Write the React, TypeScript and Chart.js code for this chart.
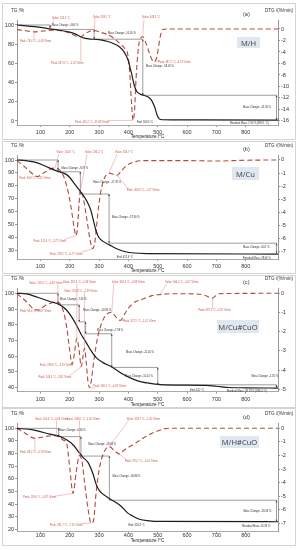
import React, { useEffect, useRef } from 'react';
import { Chart, registerables } from 'chart.js';
Chart.register(...registerables);

const xTicks = [100, 200, 300, 400, 500, 600, 700, 800];

// ---- Panel (a) M/H ----
const tgTempA = [20, 60, 100, 131, 160, 200, 220, 235, 250, 270, 290, 310, 330, 350, 370, 385, 398, 407, 414, 420, 428, 440, 455, 470, 480, 490, 498, 505, 515, 600, 910];
const tgA = [100, 98.8, 97.5, 96, 94.8, 92.5, 90.5, 88, 86.3, 85.3, 85, 84.2, 82.8, 80.5, 77, 72, 64, 54, 45, 37, 31, 28, 26.5, 24.5, 21, 14, 6, 2.2, 1.3, 1.1, 1.0];
const dtgTempA = [20, 50, 80, 110, 140, 170, 200, 225, 237, 250, 270, 283, 300, 330, 350, 370, 386, 398, 405, 410, 416, 421, 426, 435, 443, 449, 458, 470, 480, 488, 496, 503, 510, 517, 530, 910];
const dtgA = [-0.1, -0.3, -0.5, -0.35, -0.2, -0.3, -0.7, -1.3, -1.35, -0.9, -0.35, -0.26, -0.5, -1.0, -1.6, -2.5, -3.3, -4.5, -8, -12.5, -15.9, -14, -8.6, -2.8, -1.5, -1.35, -2.2, -4.0, -5.3, -5.7, -5.0, -3.0, -1.0, -0.1, 0, 0];
const leftTicksA = [0, 20, 40, 60, 80, 100];
const rightTicksA = [0, -2, -4, -6, -8, -10, -12, -14, -16];
// annotations (data coordinates): [text, labelT, labelTG, anchorT, anchorDTG]
const peakNotesA: [string, number, number, number, number][] = [
  ['Value: 132.5 °C', 139, 107.3, 132, -0.2],
  ['Value: 283.7 °C', 279, 108.3, 283.7, -0.26],
  ['Value: 448.5 °C', 446, 107.6, 448.5, -1.35],
  ['Peak: 78.4 °C, -0.48 %/min', 30, 83.3, 78.4, -0.5],
  ['Peak: 237.6 °C, -1.32 %/min', 136, 60.4, 237.6, -1.35],
  ['Peak: 487.2 °C, -6.13 %/min', 501, 61.5, 488, -5.7],
  ['Peak: 416.2 °C, -15.88 %/min', 218, -1, 416, -15.9],
];
const massNotesA: [string, number, number][] = [
  ['Mass Change: -4.60 %', 139, 99.3],
  ['Mass Change: -10.16 %', 330, 91.7],
  ['Mass Change: -58.45 %', 460, 57.3],
  ['Mass Change: -22.36 %', 791, 14.6],
  ['Residual Mass: 2.90 % (899.1 °C)', 746, -2],
  ['End: 503.5 °C', 429, -1],
];
const stepTempsA = [25, 133, 283, 449, 905];
const stepLevelsA = [100, 95.4, 85.2, 26.8, 1.0];

// ---- Panel (b) M/Cu ----
const tgTempB = [20, 50, 77, 110, 134, 162, 185, 200, 215, 230, 245, 260, 272, 282, 290, 300, 315, 335, 360, 390, 420, 460, 910];
const tgB = [100, 99.5, 98.5, 96, 93.5, 91, 89.3, 86.5, 82, 77.5, 73, 67.5, 61, 52, 45, 40, 37, 34.5, 31.5, 29.2, 28.2, 27.8, 27.4];
const dtgTempB = [20, 40, 65, 89, 110, 130, 145, 162, 180, 195, 207, 215, 221, 226, 232, 237, 245, 258, 270, 278, 286, 295, 305, 318, 334, 348, 361, 375, 395, 420, 450, 600, 700, 800, 910];
const dtgB = [-0.05, -0.4, -0.9, -1.27, -1.0, -0.75, -0.62, -0.7, -1.3, -2.5, -4.0, -5.2, -5.77, -5.2, -3.2, -2.3, -2.8, -4.5, -6.2, -6.77, -6.2, -4.2, -2.5, -1.4, -1.0, -1.1, -1.17, -0.85, -0.4, -0.15, -0.05, -0.05, -0.08, -0.02, 0];
const leftTicksB = [30, 40, 50, 60, 70, 80, 90, 100];
const rightTicksB = [0, -1, -2, -3, -4, -5, -6, -7];
const peakNotesB: [string, number, number, number, number][] = [
  ['Value: 154.9 °C', 155, 105.6, 150, -0.62],
  ['Value: 236.2 °C', 252, 105.6, 237, -2.3],
  ['Value: 334.7 °C', 354, 105.6, 334, -1.0],
  ['Peak: 90.9 °C, -1.25 %/min', 28, 85.9, 89, -1.27],
  ['Peak: 221.6 °C, -5.77 %/min', 76, 37.5, 221, -5.77],
  ['Peak: 278.2 °C, -6.77 %/min', 132, 27.5, 278, -6.77],
  ['Peak: 360.9 °C, -1.17 %/min', 394, 76.3, 361, -1.17],
];
const massNotesB: [string, number, number][] = [
  ['Mass Change: -9.07 %', 172, 93.6],
  ['Mass Change: -17.18 %', 280, 82.5],
  ['Mass Change: -37.90 %', 343, 55.5],
  ['Mass Change: -8.01 %', 791, 33],
  ['Residual Mass: 28.06 %', 790, 24],
  ['End: 412.9 °C', 360, 24.6],
];
const stepTempsB = [25, 160, 236, 334, 905];
const stepLevelsB = [100, 90.9, 73.7, 35.8, 27.8];

// ---- Panel (c) M/Cu#CuO ----
const tgTempC = [20, 52, 90, 132, 166, 188, 205, 222, 239, 256, 273, 290, 312, 346, 380, 414, 448, 493, 527, 663, 700, 742, 800, 910];
const tgC = [100, 99.6, 97.5, 94.8, 92.7, 89.5, 85.3, 80, 73.8, 68.6, 63.3, 59, 56, 52.8, 48.6, 45.5, 43.4, 42.2, 41.7, 41.3, 40.8, 40, 39.8, 39.6];
const dtgTempC = [20, 50, 81, 93, 115, 143, 159, 175, 190, 200, 208, 215, 224, 232, 239, 245, 250, 256, 262, 267, 273, 282, 295, 310, 325, 343, 358, 373, 390, 410, 425, 450, 480, 506, 550, 620, 660, 675, 687, 700, 708, 910];
const dtgC = [-0.02, -0.4, -0.85, -0.87, -0.65, -0.48, -0.46, -0.8, -1.8, -3.0, -3.7, -3.2, -2.36, -3.0, -3.82, -3.3, -2.86, -3.6, -4.6, -4.92, -4.6, -3.5, -2.3, -1.5, -1.1, -0.99, -1.25, -1.41, -1.0, -0.6, -0.43, -0.3, -0.12, -0.07, -0.02, -0.03, -0.1, -0.2, -0.25, -0.1, -0.02, 0];
const leftTicksC = [40, 50, 60, 70, 80, 90, 100];
const rightTicksC = [0, -1, -2, -3, -4, -5];
const peakNotesC: [string, number, number, number, number][] = [
  ['Value: 159.0 °C, -0.46 %/min', 62, 106.4, 159, -0.46],
  ['Value: 232.9 °C, -2.36 %/min', 176, 107, 224, -2.36],
  ['Value: 253.8 °C, -2.59 %/min', 181, 101.5, 250, -2.86],
  ['Value: 342.6 °C, -0.99 %/min', 343, 107, 343, -0.99],
  ['Value: 506.0 °C, -0.07 %/min', 525, 107, 506, -0.07],
  ['Peak: 93.4 °C, -0.87 %/min', 30, 88.3, 93, -0.87],
  ['Peak: 218.6 °C, -3.70 %/min', 98, 54.3, 208, -3.7],
  ['Peak: 244.3 °C, -3.82 %/min', 93, 46.5, 239, -3.82],
  ['Peak: 266.5 °C, -4.92 %/min', 280, 40.5, 267, -4.92],
  ['Peak: 372.5 °C, -1.41 %/min', 382, 81.9, 373, -1.41],
  ['Peak: 687.5 °C, -0.25 %/min', 638, 89.4, 687, -0.25],
];
const massNotesC: [string, number, number][] = [
  ['Mass Change: -7.35 %', 167, 96.2],
  ['Mass Change: -10.85 %', 246, 89.4],
  ['Mass Change: -7.58 %', 292, 76.6],
  ['Mass Change: -21.40 %', 392, 62.2],
  ['Mass Change: -10.10 %', 388, 47.3],
  ['Mass Change: -1.35 %', 820, 46.9],
  ['End: 422 °C', 610, 38],
  ['Residual Mass: 39.78 % (899.4 °C)', 735, 37.3],
];
const stepTempsC = [25, 160, 232, 254, 343, 500, 905];
const stepLevelsC = [100, 92.65, 81.8, 74.2, 52.8, 41.7, 39.8];

// ---- Panel (d) M/H#CuO ----
const tgTempD = [20, 75, 132, 166, 188, 211, 228, 245, 262, 279, 290, 301, 324, 352, 375, 397, 414, 437, 471, 505, 910];
const tgD = [100, 98.7, 95.4, 93.6, 91, 87, 82, 77, 73, 64, 55.6, 50.6, 46, 42, 38.3, 33, 30.6, 28, 26.7, 26.2, 26];
const dtgTempD = [20, 50, 81, 100, 125, 143, 162, 180, 188, 199, 211, 222, 233, 242, 250, 262, 273, 281, 290, 301, 315, 335, 350, 369, 385, 414, 459, 493, 537, 910];
const dtgD = [0, -0.4, -0.74, -0.68, -0.58, -0.54, -0.6, -0.9, -1.0, -2.7, -4.8, -3.2, -2.0, -2.5, -3.9, -5.9, -7.0, -6.8, -4.7, -2.95, -1.85, -1.35, -1.6, -1.9, -1.6, -1.23, -0.61, -0.25, 0, 0];
const leftTicksD = [20, 30, 40, 50, 60, 70, 80, 90, 100];
const rightTicksD = [0, -1, -2, -3, -4, -5, -6, -7];
const peakNotesD: [string, number, number, number, number][] = [
  ['Value: 161.6 °C, -0.48 %/min', 81, 107.4, 155, -0.55],
  ['Value: 238.6 °C, -2.26 %/min', 189, 107.4, 233, -2.0],
  ['Value: 333.7 °C, -1.45 %/min', 394, 107.4, 335, -1.35],
  ['Peak: 88.4 °C, -0.70 %/min', 30, 81, 81, -0.74],
  ['Peak: 218.6 °C, -4.87 %/min', 41, 45, 211, -4.8],
  ['Peak: 281.7 °C, -7.16 %/min', 132, 23.4, 273, -7.0],
  ['Peak: 375.1 °C, -2.04 %/min', 388, 73.6, 369, -1.9],
];
const massNotesD: [string, number, number][] = [
  ['Mass Change: -6.56 %', 164, 98.1],
  ['Mass Change: -18.63 %', 263, 87.3],
  ['Mass Change: -34.86 %', 346, 61.7],
  ['Mass Change: -16.33 %', 792, 34.5],
  ['End: 426.3 °C', 400, 22.9],
  ['Residual Mass: 24.33 %', 788, 22.1],
];
const stepTempsD = [25, 162, 238, 335, 905];
const stepLevelsD = [100, 93.4, 78, 43, 26];

const sampleNames = ['M/H', 'M/Cu', 'M/Cu#CuO', 'M/H#CuO'];
const panelLetters = ['(a)', '(b)', '(c)', '(d)'];

const FONT = "'Liberation Sans', Arial, sans-serif";

type PanelCfg = {
  tgT: number[]; tg: number[]; dtgT: number[]; dtg: number[];
  lTicks: number[]; rTicks: number[];
  peaks: [string, number, number, number, number][];
  mass: [string, number, number][];
  stepT: number[]; stepV: number[];
  lMin: number; lMax: number; rMin: number; rMax: number;
  top: number; bottom: number; chartTop: number; chartBottom: number; tickY: number; titleY: number;
  name: string; letter: string;
  box: { x: number; y: number; w: number; h: number };
};

const panels: PanelCfg[] = [
  { tgT: tgTempA, tg: tgA, dtgT: dtgTempA, dtg: dtgA, lTicks: leftTicksA, rTicks: rightTicksA,
    peaks: peakNotesA, mass: massNotesA, stepT: stepTempsA, stepV: stepLevelsA,
    lMin: -4.17, lMax: 105.2, rMin: -16.7, rMax: 1.565,
    top: 3, bottom: 141, chartTop: 20, chartBottom: 125, tickY: 132, titleY: 137,
    name: sampleNames[0], letter: panelLetters[0], box: { x: 237, y: 37, w: 23, h: 11 } },
  { tgT: tgTempB, tg: tgB, dtgT: dtgTempB, dtg: dtgB, lTicks: leftTicksB, rTicks: rightTicksB,
    peaks: peakNotesB, mass: massNotesB, stepT: stepTempsB, stepV: stepLevelsB,
    lMin: 23.59, lMax: 103.86, rMin: -7.557, rMax: 0.38,
    top: 141, bottom: 275, chartTop: 155, chartBottom: 259, tickY: 266, titleY: 271,
    name: sampleNames[1], letter: panelLetters[1], box: { x: 232, y: 167, w: 27, h: 13 } },
  { tgT: tgTempC, tg: tgC, dtgT: dtgTempC, dtg: dtgC, lTicks: leftTicksC, rTicks: rightTicksC,
    peaks: peakNotesC, mass: massNotesC, stepT: stepTempsC, stepV: stepLevelsC,
    lMin: 37.32, lMax: 103.38, rMin: -5.125, rMax: 0.276,
    top: 275, bottom: 409, chartTop: 288, chartBottom: 391.7, tickY: 399.3, titleY: 404.3,
    name: sampleNames[2], letter: panelLetters[2], box: { x: 217, y: 320, w: 42, h: 13 } },
  { tgT: tgTempD, tg: tgD, dtgT: dtgTempD, dtg: dtgD, lTicks: leftTicksD, rTicks: rightTicksD,
    peaks: peakNotesD, mass: massNotesD, stepT: stepTempsD, stepV: stepLevelsD,
    lMin: 18.1, lMax: 104.2, rMin: -7.62, rMax: 0.39,
    top: 408, bottom: 546, chartTop: 423, chartBottom: 531.7, tickY: 535.5, titleY: 540.5,
    name: sampleNames[3], letter: panelLetters[3], box: { x: 220, y: 436, w: 39, h: 12 } },
];

const frames = [
  { top: 3, h: 136 },
  { top: 141, h: 132 },
  { top: 275, h: 132 },
  { top: 408, h: 137 },
];

function pts(xs: number[], ys: number[]) {
  return xs.map((x, i) => ({ x, y: ys[i] }));
}

const annPlugin = {
  id: 'ann',
  afterDatasetsDraw(chart: any, _args: any, opts: any) {
    const { ctx } = chart;
    const xs = chart.scales.x, yl = chart.scales.y, yr = chart.scales.y1;
    const X = (t: number) => xs.getPixelForValue(t);
    const YL = (v: number) => yl.getPixelForValue(v);
    const YR = (v: number) => yr.getPixelForValue(v);
    const stepT: number[] = opts.stepT, stepV: number[] = opts.stepV;
    ctx.save();
    // mass-change step markers (horizontal levels + vertical arrows)
    ctx.strokeStyle = '#3c3c3c';
    ctx.lineWidth = 0.5;
    for (let i = 0; i < stepT.length - 1; i++) {
      const x1 = X(stepT[i]), x2 = X(stepT[i + 1]);
      const y = YL(stepV[i]);
      ctx.beginPath(); ctx.moveTo(x1, y); ctx.lineTo(x2, y); ctx.stroke();
      const ya = YL(stepV[i]), yb = YL(stepV[i + 1]);
      ctx.beginPath(); ctx.moveTo(x2, ya); ctx.lineTo(x2, yb); ctx.stroke();
      ctx.fillStyle = '#3c3c3c';
      [[ya, 1], [yb, -1]].forEach(([yy, d]) => {
        ctx.beginPath(); ctx.moveTo(x2, yy); ctx.lineTo(x2 - 0.9, yy + d * 2); ctx.lineTo(x2 + 0.9, yy + d * 2); ctx.closePath(); ctx.fill();
      });
    }
    ctx.font = `2.6px ${FONT}`;
    ctx.textBaseline = 'middle';
    // peak / value notes with leader lines
    for (const [text, lt, lv, at, av] of opts.peaks) {
      const lx = X(lt), ly = YL(lv);
      const w = ctx.measureText(text).width;
      const ax = X(at), ay = YR(av);
      const ex = Math.min(Math.max(ax, lx + 2), lx + w - 2);
      const ey = ay > ly ? ly + 1.4 : ly - 1.4;
      ctx.strokeStyle = '#e08a84';
      ctx.lineWidth = 0.5;
      ctx.beginPath(); ctx.moveTo(ax, ay); ctx.lineTo(ex, ey); ctx.stroke();
      ctx.fillStyle = '#c4564c';
      ctx.fillText(text, lx, ly);
    }
    for (const [text, lt, lv] of opts.mass) {
      const lx = X(lt), ly = YL(lv);
      ctx.fillStyle = '#2a2a2a';
      ctx.fillText(text, lx, ly);
    }
    ctx.restore();
  },
};

function Panel({ cfg }: { cfg: PanelCfg }) {
  const ref = useRef<HTMLCanvasElement | null>(null);
  const H = cfg.bottom - cfg.top;
  useEffect(() => {
    if (!ref.current) return;
    const tickFont = { size: 5.5, family: FONT };
    const xHeight = cfg.bottom - cfg.chartBottom;
    const tickPad = cfg.tickY - cfg.chartBottom - 2 - 3.3;
    const titlePad = cfg.bottom - cfg.titleY - 2.7;
    const chart = new Chart(ref.current, {
      type: 'line',
      data: {
        datasets: [
          { label: 'TG', data: pts(cfg.tgT, cfg.tg), yAxisID: 'y', borderColor: '#1c1c1c', borderWidth: 1.2,
            pointRadius: 0, cubicInterpolationMode: 'monotone', fill: false },
          { label: 'DTG', data: pts(cfg.dtgT, cfg.dtg), yAxisID: 'y1', borderColor: '#b5473d', borderWidth: 1.1,
            borderDash: [5, 3], pointRadius: 0, cubicInterpolationMode: 'monotone', fill: false },
        ],
      },
      plugins: [annPlugin],
      options: {
        animation: false,
        responsive: false,
        maintainAspectRatio: false,
        layout: { padding: { top: cfg.chartTop - cfg.top, left: 0, right: 0, bottom: 0 } },
        plugins: {
          legend: { display: false }, tooltip: { enabled: false },
          ann: { peaks: cfg.peaks, mass: cfg.mass, stepT: cfg.stepT, stepV: cfg.stepV },
        },
        scales: {
          x: {
            type: 'linear', min: 20, max: 910,
            afterBuildTicks: (s: any) => { s.ticks = xTicks.map((v) => ({ value: v })); },
            afterFit: (s: any) => { s.height = xHeight; },
            grid: { drawOnChartArea: false, tickLength: 2, color: '#999' },
            border: { color: '#b0a8a8', width: 1 },
            ticks: { font: tickFont, color: '#333', padding: tickPad, maxRotation: 0, autoSkip: false },
            title: { display: true, text: 'Temperature /°C', font: { size: 4.6, family: FONT }, color: '#222',
              padding: { top: 0, bottom: titlePad } },
          },
          y: {
            position: 'left', min: cfg.lMin, max: cfg.lMax,
            afterBuildTicks: (s: any) => { s.ticks = cfg.lTicks.map((v) => ({ value: v })); },
            afterFit: (s: any) => { s.width = 17; },
            grid: { drawOnChartArea: false, tickLength: 2, color: '#999' },
            border: { color: '#999', width: 1 },
            ticks: { font: tickFont, color: '#333', padding: 1 },
          },
          y1: {
            position: 'right', min: cfg.rMin, max: cfg.rMax,
            afterBuildTicks: (s: any) => { s.ticks = cfg.rTicks.map((v) => ({ value: v })); },
            afterFit: (s: any) => { s.width = 19; },
            grid: { drawOnChartArea: false, tickLength: 2, color: '#999' },
            border: { color: '#999', width: 1 },
            ticks: { font: tickFont, color: '#333', padding: 1 },
          },
        },
      },
    } as any);
    return () => chart.destroy();
  }, [cfg]);

  const txt = (extra: React.CSSProperties) => ({
    position: 'absolute' as const, fontFamily: FONT, color: '#333', whiteSpace: 'nowrap' as const, lineHeight: 1, ...extra,
  });

  return (
    <>
      <canvas ref={ref} width={297} height={H}
        style={{ position: 'absolute', left: 0, top: cfg.top, width: 297, height: H }} />
      <div style={txt({ left: 11, top: cfg.chartTop - 11, fontSize: 4.6 })}>TG /%</div>
      <div style={txt({ left: 265, top: cfg.chartTop - 11, fontSize: 4.6 })}>DTG /(%/min)</div>
      <div style={txt({ left: 243, top: cfg.chartTop - 8, fontSize: 5.6 })}>{cfg.letter}</div>
      <div style={{ position: 'absolute', left: cfg.box.x, top: cfg.box.y, width: cfg.box.w, height: cfg.box.h,
        background: '#dfe7f1', display: 'flex', alignItems: 'center', justifyContent: 'center',
        fontFamily: "'Open Sans', 'Liberation Sans', sans-serif", fontSize: 7.6, color: '#3a3a3a' }}>{cfg.name}</div>
    </>
  );
}

export default function App() {
  useEffect(() => {
    document.body.style.margin = '0';
    document.body.style.background = '#fff';
  }, []);
  return (
    <div style={{ position: 'relative', width: 297, height: 550, overflow: 'hidden', background: '#fff' }}>
      {frames.map((f, i) => (
        <div key={i} style={{ position: 'absolute', left: 2, top: f.top, width: 292, height: f.h - 1,
          border: '1px solid #d4d4d4' }} />
      ))}
      {panels.map((p, i) => <Panel key={i} cfg={p} />)}
    </div>
  );
}
